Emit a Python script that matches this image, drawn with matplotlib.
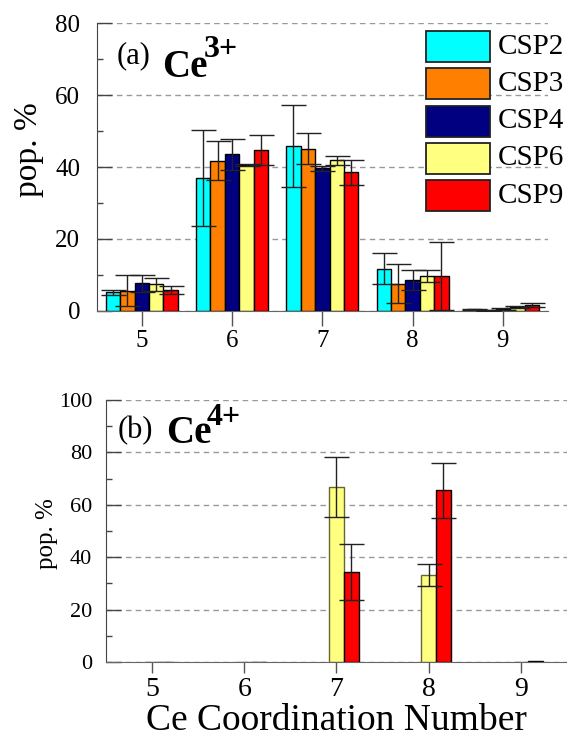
import matplotlib
matplotlib.use("Agg")
import matplotlib.pyplot as plt
from matplotlib.patches import Rectangle
from matplotlib.ticker import MultipleLocator
import numpy as np

plt.rcParams['font.family'] = ['Liberation Serif', 'DejaVu Serif']

# coordination numbers on the x axis
cn = [5, 6, 7, 8, 9]
series = ['CSP2', 'CSP3', 'CSP4', 'CSP6', 'CSP9']
colors = ['#00ffff', '#ff8000', '#000080', '#ffff80', '#ff0000']

# (a) Ce3+ population (%) per coordination number, and error bars
ce3_csp2 = [5.1, 36.9, 45.9, 11.7, 0.4]
ce3_csp3 = [5.6, 41.7, 45.1, 7.5, 0.1]
ce3_csp4 = [7.6, 43.6, 39.6, 8.6, 0.5]
ce3_csp6 = [7.3, 40.6, 41.9, 9.6, 1.0]
ce3_csp9 = [5.8, 44.7, 38.5, 9.6, 1.5]
ce3_err2 = [0.8, 13.4, 11.4, 4.3, 0.2]
ce3_err3 = [4.3, 5.4, 4.3, 5.4, 0.1]
ce3_err4 = [2.4, 4.3, 0.8, 2.8, 0.2]
ce3_err6 = [1.9, 0.3, 1.3, 1.7, 0.2]
ce3_err9 = [1.2, 4.2, 3.4, 9.4, 0.6]

# (b) Ce4+ population (%), only CSP6 and CSP9 give Ce4+
ce4_csp6 = [0, 0, 66.8, 33.3, 0]
ce4_csp9 = [0, 0, 34.4, 65.5, 0.3]
ce4_err6 = [0, 0, 11.3, 4.2, 0]
ce4_err9 = [0, 0, 10.6, 10.6, 0]

W, H = 567, 738
fig = plt.figure(figsize=(W / 100, H / 100), dpi=100)


def fx(px):
    return px / W


def fy(py):
    return 1 - py / H


def style_axes(ax, ymax, ytick_size, ytick_pad, xtick_size, xtick_len, xtick_pad):
    ax.set_xlim(4.5, 9.5)
    ax.set_ylim(0, ymax)
    ax.set_xticks(cn)
    ax.yaxis.set_major_locator(MultipleLocator(20))
    ax.yaxis.set_minor_locator(MultipleLocator(10))
    ax.spines['top'].set_visible(False)
    ax.spines['right'].set_visible(False)
    ax.spines['left'].set_color('#444444')
    ax.spines['bottom'].set_color('#666666')
    ax.tick_params(axis='y', which='major', direction='in', length=11, width=1,
                   color='#444444', labelsize=ytick_size, pad=ytick_pad)
    ax.tick_params(axis='y', which='minor', direction='in', length=4, width=1,
                   color='#444444')
    ax.tick_params(axis='x', which='major', direction='out', length=xtick_len,
                   width=1, color='#555555', labelsize=xtick_size, pad=xtick_pad)
    ax.grid(axis='y', which='major', color='#999999', linestyle=(0, (4, 3)), lw=1)
    ax.set_axisbelow(True)


# ---- (a) Ce3+ ----
ax1 = fig.add_axes([fx(96.7), fy(310.7), fx(548 - 96.7), (310.7 - 23.3) / H])
style_axes(ax1, 80, 18, 12, 18, 11, 3)

x = np.array(cn, dtype=float)
width = 0.16
vals3 = [ce3_csp2, ce3_csp3, ce3_csp4, ce3_csp6, ce3_csp9]
errs3 = [ce3_err2, ce3_err3, ce3_err4, ce3_err6, ce3_err9]
for i, (v, e, c) in enumerate(zip(vals3, errs3, colors)):
    xi = x + (i - 2) * width
    ax1.bar(xi, v, width, color=c, edgecolor='black', linewidth=1, zorder=2)
    ax1.errorbar(xi, v, yerr=e, fmt='none', ecolor='#222222', elinewidth=1,
                 capsize=9, capthick=1, zorder=3)

# legend boxes, drawn by hand so they sit tightly like the original
for i, (name, c) in enumerate(zip(series, colors)):
    top = 31 + i * 37.3
    fig.add_artist(Rectangle((fx(425.7), fy(top + 31)), fx(490 - 425.7), 31 / H,
                             transform=fig.transFigure, facecolor=c,
                             edgecolor='#222222', linewidth=1.3, zorder=5))
    fig.text(fx(498), fy(top + 15.5), name, fontsize=21, ha='left', va='center',
             zorder=6)

fig.text(fx(117), fy(63), '(a)', fontsize=22, ha='left', va='baseline')
fig.text(fx(162), fy(77), 'Ce', fontsize=28, fontweight='bold', ha='left', va='baseline')
fig.text(fx(204), fy(57), '3+', fontsize=23, fontweight='bold', ha='left', va='baseline')
fig.text(fx(29), fy(150), 'pop. %', fontsize=24, rotation=90, ha='center', va='center')

# ---- (b) Ce4+ ----
ax2 = fig.add_axes([fx(106), fy(662), fx(567 - 106), (662 - 400) / H])
style_axes(ax2, 100, 16, 10, 20, 8, 3)

vals4 = [ce4_csp6, ce4_csp9]
errs4 = [ce4_err6, ce4_err9]
edges4 = ['#666633', 'black']
for i, (v, e, c, ec) in enumerate(zip(vals4, errs4, colors[3:], edges4)):
    xi = x + i * width
    ax2.bar(xi, v, width, color=c, edgecolor=ec, linewidth=1, zorder=2)
    mask = np.array(e) > 0
    ax2.errorbar(xi[mask], np.array(v)[mask], yerr=np.array(e)[mask], fmt='none',
                 ecolor='#222222', elinewidth=1, capsize=9, capthick=1, zorder=3)

fig.text(fx(118), fy(438), '(b)', fontsize=22, ha='left', va='baseline')
fig.text(fx(166), fy(443), 'Ce', fontsize=28, fontweight='bold', ha='left', va='baseline')
fig.text(fx(207), fy(425), '4+', fontsize=23, fontweight='bold', ha='left', va='baseline')
fig.text(fx(47), fy(534), 'pop. %', fontsize=18, rotation=90, ha='center', va='center')
fig.text(fx(336), fy(730), 'Ce Coordination Number', fontsize=27, ha='center',
         va='baseline')

fig.savefig('out.png', dpi=100)
